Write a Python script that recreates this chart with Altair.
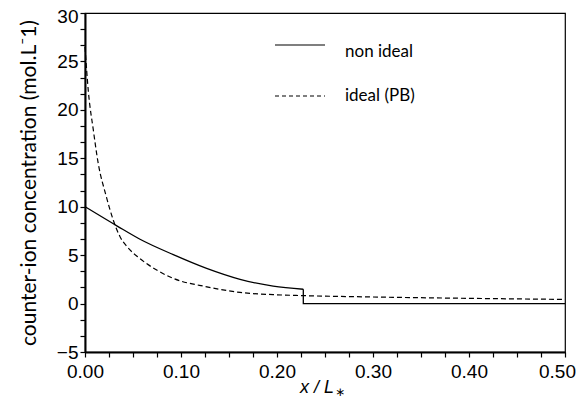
import altair as alt
import pandas as pd

# ideal (Poisson-Boltzmann) profile
x_ideal = [0.0, 0.0035, 0.0087, 0.0139, 0.0215, 0.0295, 0.0365, 0.044, 0.057,
           0.0747, 0.092, 0.127, 0.1615, 0.196, 0.2274, 0.3, 0.4, 0.5]
c_ideal = [26.5, 21.9, 17.9, 14.4, 11.3, 8.6, 6.9, 5.85, 4.66,
           3.46, 2.6, 1.73, 1.15, 0.92, 0.82, 0.68, 0.54, 0.43]

# non ideal profile: decaying part, then jump to zero at the boundary
x_nonideal = [0.0, 0.0336, 0.0573, 0.092, 0.1267, 0.1615, 0.196, 0.2274]
c_nonideal = [10.0, 8.0, 6.64, 5.05, 3.63, 2.5, 1.8, 1.48]
x_jump = [0.2274, 0.2274, 0.5]
c_jump = [1.48, 0.0, 0.0]

y_tick_values = [-5 + i * 5 / 3 for i in range(22)]
x_tick_values = [i * 0.025 for i in range(21)]

LABEL_FONT = "Liberation Sans"
TEXT_FONT = "Lato"

df_ideal = pd.DataFrame({"x": x_ideal, "c": c_ideal})
df_non = pd.DataFrame({"x": x_nonideal, "c": c_nonideal})
df_jump = pd.DataFrame({"x": x_jump, "c": c_jump})

x_enc = alt.X(
    "x:Q",
    scale=alt.Scale(domain=[0, 0.5], nice=False, zero=False),
    axis=alt.Axis(
        values=x_tick_values,
        tickCount=200,
        format=".2f",
        labelExpr="abs(datum.value*10 - round(datum.value*10)) < 0.001 ? datum.label : ''",
        labelOffset={"condition": {"test": "datum.value > 0.49", "value": -8}, "value": 0},
        title=None,
        grid=False,
        domainColor="black",
        domainWidth=2,
        tickColor="black",
        tickWidth=1.2,
        tickSize=5,
        labelFont=LABEL_FONT,
        labelFontSize=19,
        labelColor="black",
        labelPadding=5,
        labelOverlap=False,
        labelBound=False,
        labelFlush=False,
    ),
)
y_enc = alt.Y(
    "c:Q",
    scale=alt.Scale(domain=[-5, 30], nice=False, zero=False),
    axis=alt.Axis(
        values=y_tick_values,
        tickCount=200,
        format=".0f",
        labelExpr="abs(datum.value - round(datum.value/5)*5) < 0.01 ? datum.label : ''",
        labelOffset={"condition": {"test": "datum.value > 29", "value": 3}, "value": 0},
        title="counter-ion concentration (mol.L\u207b1)",
        titleFont=TEXT_FONT,
        titleFontSize=21,
        titleFontWeight="normal",
        titleColor="black",
        titleBaseline="alphabetic",
        titleX=-50,
        grid=False,
        domainColor="black",
        domainWidth=2,
        tickColor="black",
        tickWidth=1.2,
        tickSize=5,
        labelFont=LABEL_FONT,
        labelFontSize=19,
        labelColor="black",
        labelPadding=2,
        labelOverlap=False,
        labelBound=False,
    ),
)

line_ideal = alt.Chart(df_ideal).mark_line(
    color="black", strokeWidth=1.2, strokeDash=[5, 3], interpolate="monotone"
).encode(x=x_enc, y=y_enc)
line_non = alt.Chart(df_non).mark_line(
    color="black", strokeWidth=1.3, interpolate="monotone"
).encode(x="x:Q", y="c:Q")
line_jump = alt.Chart(df_jump).mark_line(
    color="black", strokeWidth=1.3, interpolate="linear"
).encode(x="x:Q", y="c:Q")

one = pd.DataFrame({"k": [0]})
leg_solid = alt.Chart(one).mark_rule(color="black", strokeWidth=1.2).encode(
    x=alt.value(190), x2=alt.value(240), y=alt.value(32)
)
leg_dash = alt.Chart(one).mark_rule(color="black", strokeWidth=1.2, strokeDash=[4, 3]).encode(
    x=alt.value(190), x2=alt.value(240), y=alt.value(83)
)
leg_t1 = alt.Chart(one).mark_text(
    align="left", baseline="alphabetic", font=TEXT_FONT, fontSize=17, color="black"
).encode(x=alt.value(260), y=alt.value(44), text=alt.value("non ideal"))
leg_t2 = alt.Chart(one).mark_text(
    align="left", baseline="alphabetic", font=TEXT_FONT, fontSize=17, color="black"
).encode(x=alt.value(260), y=alt.value(88), text=alt.value("ideal (PB)"))

xt_main = alt.Chart(one).mark_text(
    align="right", baseline="alphabetic", font=LABEL_FONT, fontSize=18,
    fontStyle="italic", color="black"
).encode(x=alt.value(249), y=alt.value(380), text=alt.value("x / L"))
xt_sub = alt.Chart(one).mark_text(
    align="left", baseline="alphabetic", font="DejaVu Sans", fontSize=12, color="black"
).encode(x=alt.value(250), y=alt.value(383), text=alt.value("\u2217"))

chart = alt.layer(
    line_ideal, line_non, line_jump, leg_solid, leg_dash, leg_t1, leg_t2, xt_main, xt_sub
).properties(
    width=480,
    height=339,
    autosize=alt.AutoSizeParams(type="none"),
    padding={"left": 77, "top": 5, "right": 12, "bottom": 44},
).configure_view(
    stroke="black", strokeWidth=1.2
)

chart.save("out.html", embed_options={"renderer": "svg", "actions": False})
